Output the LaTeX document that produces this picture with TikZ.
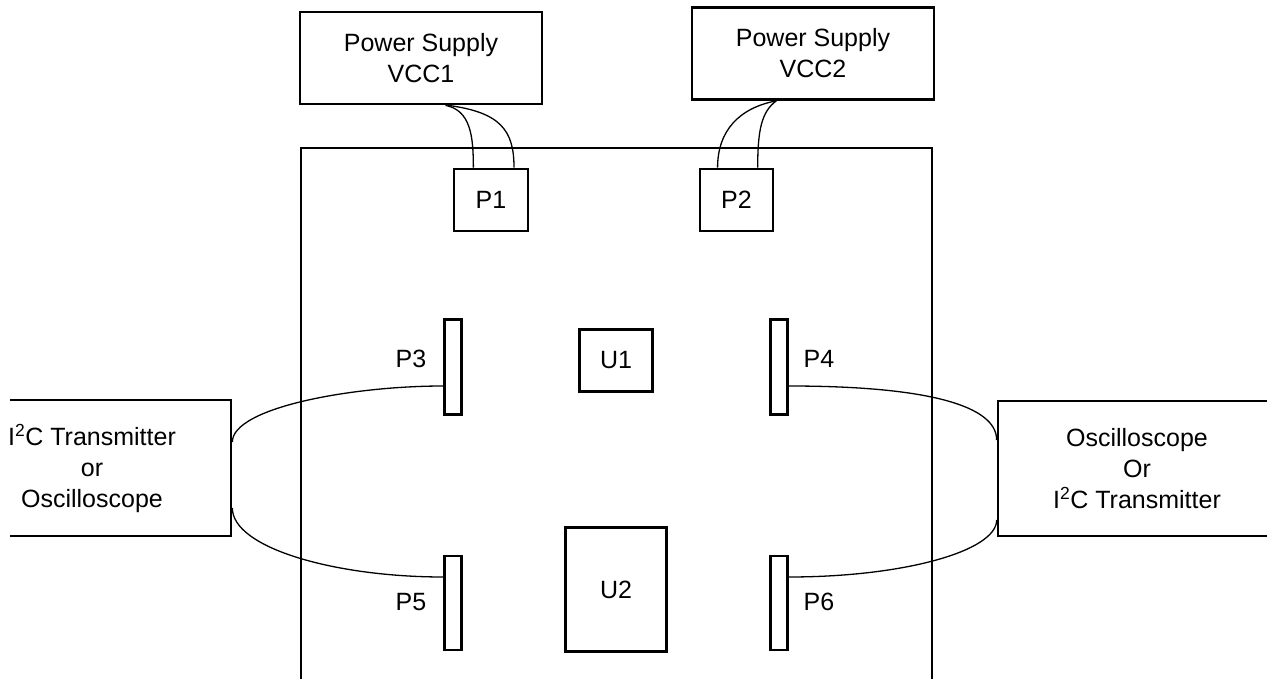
\documentclass[tikz,border=0pt]{standalone}
\usepackage{fontspec}
\setmainfont{Liberation Sans}
\usetikzlibrary{calc}
\tikzset{
  box/.style={draw, line width=2.7pt, line join=miter, inner sep=0pt, align=center, font=\fontsize{25}{31}\selectfont},
  lbl/.style={inner sep=0pt, font=\fontsize{25}{31}\selectfont},
  wire/.style={line width=1.3pt},
  board/.style={line width=2.7pt, line join=miter}
}
\begin{document}
\begin{tikzpicture}[x=1pt,y=-1pt]
\useasboundingbox (0,0) rectangle (1267,679);
\begin{scope}
\clip (10,-5) rectangle (1272,684);
% board
\coordinate (bl) at (301,700);
\coordinate (tl) at (301,148);
\coordinate (tr) at (932,148);
\coordinate (br) at (932,700);
\draw[board] (bl) -- (tl) -- (tr) -- (br);
% power supplies
\node[box, minimum width=242pt, minimum height=92pt] (ps1) at (421,58) {Power Supply\\VCC1};
\node[box, minimum width=242pt, minimum height=92pt] (ps2) at (813,53.5) {Power Supply\\VCC2};
% connectors on board
\node[box, minimum width=74pt, minimum height=62pt] (p1) at (491,200) {P1};
\node[box, minimum width=73pt, minimum height=62pt] (p2) at (736.5,200) {P2};
\node[box, minimum width=17pt, minimum height=95pt] (p3) at (453,367) {};
\node[box, minimum width=17pt, minimum height=95pt] (p4) at (779,367) {};
\node[box, minimum width=17pt, minimum height=94pt] (p5) at (453,603) {};
\node[box, minimum width=17pt, minimum height=94pt] (p6) at (779,603) {};
\node[box, minimum width=73pt, minimum height=62pt] (u1) at (616,360.5) {U1};
\node[box, minimum width=101pt, minimum height=124pt] (u2) at (616,589.5) {U2};
% labels
\node[lbl] (l3) at (411,359) {P3};
\node[lbl] (l4) at (819,359) {P4};
\node[lbl] (l5) at (411,602) {P5};
\node[lbl] (l6) at (819,602) {P6};
% side instruments
\node[box, minimum width=278pt, minimum height=136pt] (lbox) at (92,468) {I\textsuperscript{2}C Transmitter\\or\\Oscilloscope};
\node[box, minimum width=278pt, minimum height=135pt] (rbox) at (1137,468.5) {Oscilloscope\\Or\\I\textsuperscript{2}C Transmitter};
% power wires
\draw[wire] ($(ps1.south west)!0.60!(ps1.south east)$) .. controls +(25pt,-5pt) and +(0pt,32pt) .. ($(p1.north west)!0.27!(p1.north east)$);
\draw[wire] ($(ps1.south west)!0.61!(ps1.south east)$) .. controls +(53pt,-7pt) and +(0pt,37pt) .. ($(p1.north west)!0.80!(p1.north east)$);
\draw[wire] ($(ps2.south west)!0.35!(ps2.south east)$) .. controls +(-37pt,-7pt) and +(0pt,37pt) .. ($(p2.north west)!0.25!(p2.north east)$);
\draw[wire] ($(ps2.south west)!0.35!(ps2.south east)$) .. controls +(-15pt,-11pt) and +(0pt,37pt) .. ($(p2.north west)!0.78!(p2.north east)$);
% signal wires
\draw[wire] ([yshift=26pt]lbox.east) .. controls +(0pt,34pt) and +(-93pt,0pt) .. ([yshift=-19pt]p3.west);
\draw[wire] ([yshift=-40pt]lbox.east) .. controls +(0pt,-40pt) and +(-108pt,0pt) .. ([yshift=26pt]p5.west);
\draw[wire] ([yshift=-19pt]p4.east) .. controls +(136pt,0pt) and +(0pt,35pt) .. ([yshift=28.5pt]rbox.west);
\draw[wire] ([yshift=26pt]p6.east) .. controls +(115pt,0pt) and +(0pt,-31pt) .. ([yshift=-51.5pt]rbox.west);
\end{scope}
\end{tikzpicture}
\end{document}
